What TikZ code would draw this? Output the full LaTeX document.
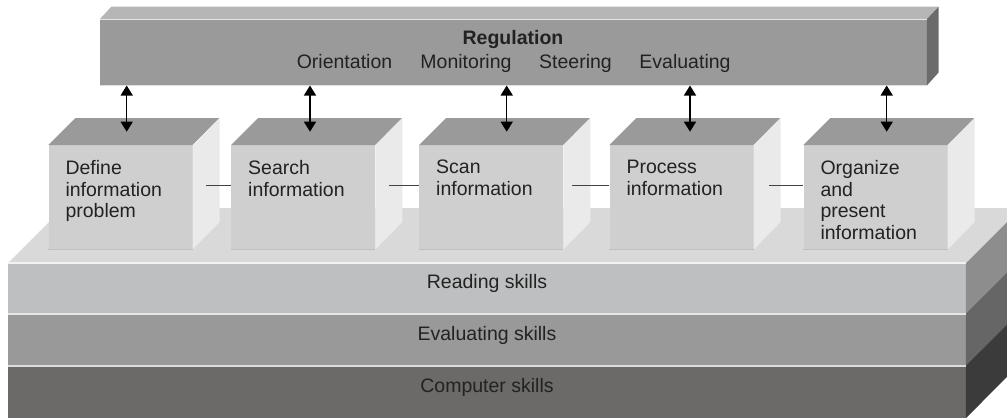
\documentclass[tikz,border=0pt]{standalone}
\usepackage{fontspec}
\setmainfont{Liberation Sans}
\usetikzlibrary{arrows.meta}
\definecolor{txt}{HTML}{222222}
\definecolor{regfrontc}{HTML}{999A99}
\definecolor{regtopc}{HTML}{B5B6B5}
\definecolor{regsidec}{HTML}{6B6B6B}
\definecolor{boxfrontc}{HTML}{CFCFCF}
\definecolor{boxtopc}{HTML}{9A9A9A}
\definecolor{boxsidec}{HTML}{E9EAE9}
\definecolor{platc}{HTML}{D8D9D8}
\definecolor{readc}{HTML}{BEBFC0}
\definecolor{evalc}{HTML}{989998}
\definecolor{compc}{HTML}{6B6A68}
\definecolor{readside}{HTML}{8D8D8D}
\definecolor{evalside}{HTML}{666666}
\definecolor{compside}{HTML}{3B3B3B}
\begin{document}
\begin{tikzpicture}[x=1pt,y=-1pt,
  font=\fontsize{19.5}{21.7}\selectfont, text=txt,
  slab/.style={minimum width=957.4pt, inner sep=0pt, text height=14pt, text depth=14pt},
  boxfront/.style={fill=boxfrontc, minimum width=144pt, minimum height=104pt, inner sep=0pt, anchor=north west},
  boxtext/.style={align=left, inner sep=0pt, anchor=north west},
  regfront/.style={fill=regfrontc, minimum width=826.7pt, minimum height=66pt, inner sep=0pt},
  conn/.style={draw=txt!85, line width=1pt},
  biarrow/.style={draw=black, line width=1.5pt, {Triangle[length=10pt,width=12pt]}-{Triangle[length=10pt,width=12pt]}},
  lbl/.style={anchor=base, inner sep=0pt}
]
\clip (0,0) rectangle (1007,418);
% ---- platform layers
\node[slab, fill=readc, minimum height=50.7pt] (read) at (487,288.65) {Reading skills};
\node[slab, fill=evalc, minimum height=52pt] (eval) at (487,340) {Evaluating skills};
\node[slab, fill=compc, minimum height=52pt] (comp) at (487,392) {Computer skills};
\fill[platc] (read.north west) -- ++(55,-55) -- ++(957.4,0) -- (read.north east) -- cycle;
\fill[readside] (read.north east) -- ++(55,-55) -- ++(0,50.7) -- (read.south east) -- cycle;
\fill[evalside] (eval.north east) -- ++(55,-55) -- ++(0,52) -- (eval.south east) -- cycle;
\fill[compside] (comp.north east) -- ++(55,-55) -- ++(0,52) -- (comp.south east) -- cycle;
\draw[line width=1.5pt, white!90!gray] (read.north west) -- (read.north east);
\draw[line width=1.5pt, white!80!gray] (eval.north west) -- (eval.north east);
\draw[line width=1.5pt, white!72!gray] (comp.north west) -- (comp.north east);
% ---- process boxes
\node[boxfront] (b1) at (48.3,145) {};
\node[boxfront] (b2) at (231,145) {};
\node[boxfront] (b3) at (419,145) {};
\node[boxfront] (b4) at (609.3,145) {};
\node[boxfront] (b5) at (803.3,145) {};
\foreach \b in {b1,b2,b3,b4,b5}{
  \fill[boxtopc] (\b.north west) -- ++(27,-27) -- ++(144,0) -- (\b.north east) -- cycle;
  \fill[boxsidec] (\b.north east) -- ++(27,-27) -- ++(0,104) -- (\b.south east) -- cycle;
  \draw[line width=1pt, black!25] (\b.south west) -- (\b.south east);
}
\node[boxtext] (t1) at ([xshift=17pt,yshift=-15pt]b1.north west) {Define\\information\\problem};
\node[boxtext] (t2) at ([xshift=17pt,yshift=-15pt]b2.north west) {Search\\information};
\node[boxtext] (t3) at ([xshift=17pt,yshift=-15pt]b3.north west) {Scan\\information};
\node[boxtext] (t4) at ([xshift=17pt,yshift=-15pt]b4.north west) {Process\\information};
\node[boxtext] (t5) at ([xshift=17pt,yshift=-15pt]b5.north west) {Organize\\and\\present\\information};
\draw[conn] ([xshift=13.3pt,yshift=12pt]b1.east) -- ([yshift=12pt]b2.west);
\draw[conn] ([xshift=13.3pt,yshift=12pt]b2.east) -- ([yshift=12pt]b3.west);
\draw[conn] ([xshift=8.4pt,yshift=12pt]b3.east) -- ([yshift=12pt]b4.west);
\draw[conn] ([xshift=15.6pt,yshift=12pt]b4.east) -- ([yshift=12pt]b5.west);
% ---- regulation bar
\node[regfront] (reg) at (513.35,52.3) {};
\fill[regtopc] (reg.north west) -- ++(11.7,-12.6) -- ++(826.7,0) -- (reg.north east) -- cycle;
\fill[regsidec] (reg.north east) -- ++(11.7,-12.6) -- ++(0,66) -- (reg.south east) -- cycle;
\draw[line width=1.2pt, white!80!gray] (reg.north west) -- (reg.north east);
\draw[line width=1.2pt, white!75!gray] (reg.south west) -- (reg.south east);
\node[lbl, font=\fontsize{19.5}{21.7}\selectfont\bfseries] (regt) at (513,44.3) {Regulation};
\node[lbl] (o1) at (344.5,68.3) {Orientation};
\node[lbl] (o2) at (466,68.3) {Monitoring};
\node[lbl] (o3) at (575.5,68.3) {Steering};
\node[lbl] (o4) at (685,68.3) {Evaluating};
% ---- arrows
\coordinate (a1) at (126.7,131.7);
\coordinate (a2) at (310,131.7);
\coordinate (a3) at (506.7,131.7);
\coordinate (a4) at (690,131.7);
\coordinate (a5) at (886.7,131.7);
\foreach \a in {a1,a2,a3,a4,a5}{
  \draw[biarrow] (reg.south -| \a) -- (\a);
}
\end{tikzpicture}
\end{document}
